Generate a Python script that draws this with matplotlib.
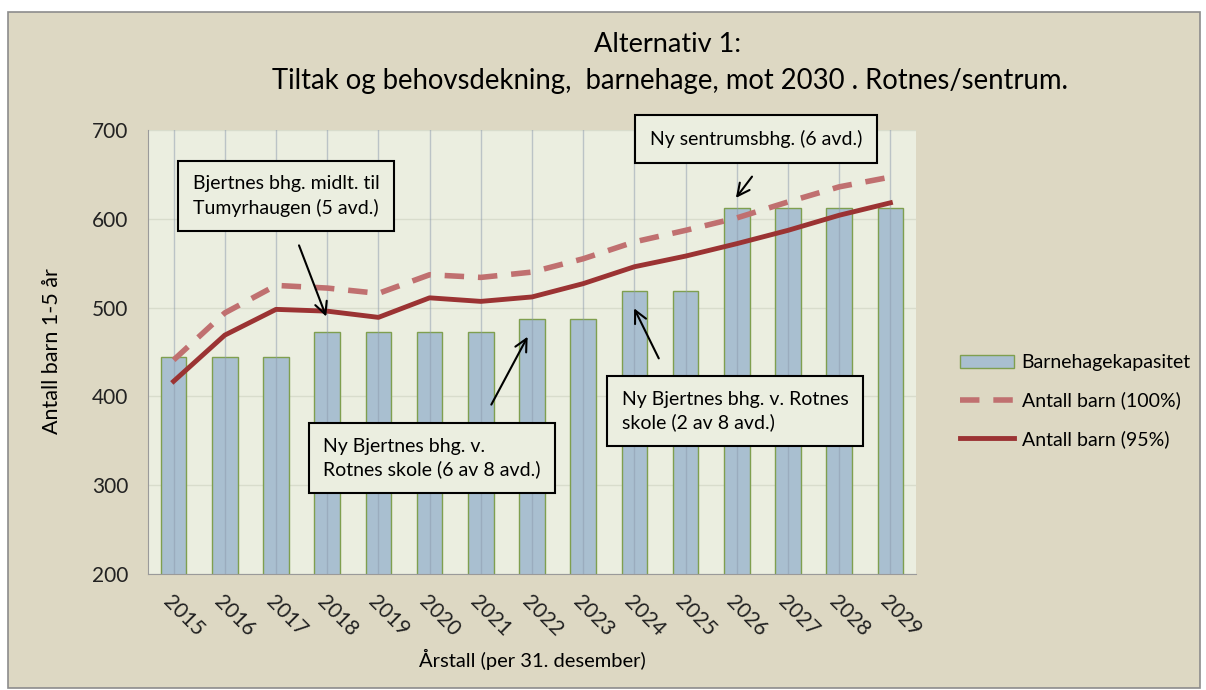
import matplotlib.pyplot as plt
import matplotlib.patches as mpatches
import numpy as np

# --- data ---
years = ['2015', '2016', '2017', '2018', '2019', '2020', '2021', '2022',
         '2023', '2024', '2025', '2026', '2027', '2028', '2029']
kapasitet = [444, 444, 444, 472, 472, 472, 472, 487, 487, 519, 519, 612, 612, 612, 612]
barn_100 = [441, 494, 525, 522, 516, 537, 534, 540, 555, 574, 587, 601, 619, 636, 647]
barn_95 = [417, 469, 498, 496, 489, 511, 507, 512, 527, 546, 558, 572, 587, 604, 618]

plt.rcParams['font.family'] = ['Lato', 'DejaVu Sans']

bg = '#ddd8c3'
W, H = 1206, 690
fig = plt.figure(figsize=(12.06, 6.9), dpi=100, facecolor='white')
fig.patches.append(mpatches.Rectangle((8 / W, 1 - 688 / H), 1192 / W, 676 / H,
                                      transform=fig.transFigure, facecolor=bg,
                                      edgecolor='#8c8c8c', lw=1.2, zorder=-5))

ax = fig.add_axes([148 / W, 1 - 574 / H, (916 - 148) / W, (574 - 130) / H], zorder=2)
ax.set_facecolor('#ebeee0')

x = np.arange(len(years))
b = ax.bar(x, kapasitet, width=0.5, color='#a9bfd0', edgecolor='#7f9f4f', lw=1,
           label='Barnehagekapasitet', zorder=2)
# vertikale rutenett over søylene (halvgjennomsiktige)
for xi in x:
    ax.axvline(xi, color='#8c9aae', alpha=0.5, lw=1, zorder=2.5)
l1, = ax.plot(x, barn_100, color='#c07070', lw=4, dashes=(3.5, 2.5),
              label='Antall barn (100%)', zorder=3)
l2, = ax.plot(x, barn_95, color='#9b3333', lw=3.5, label='Antall barn (95%)', zorder=4)

ax.set_ylim(200, 700)
ax.set_xlim(-0.5, len(years) - 0.5)
ax.set_yticks(range(200, 701, 100))
ax.set_xticks(x)
ax.set_xticklabels(years, rotation=-45, ha='left', va='top', rotation_mode='anchor')
ax.tick_params(axis='both', length=0, labelsize=15, colors='#222222')
ax.tick_params(axis='x', pad=13)
ax.tick_params(axis='y', pad=14)
ax.grid(axis='y', color='#d8dccc', lw=1, zorder=1)
ax.set_axisbelow(True)
for s in ['top', 'right']:
    ax.spines[s].set_visible(False)
for s in ['left', 'bottom']:
    ax.spines[s].set_color('#9a9a9a')

fig.text(668 / W, 1 - 45 / H, 'Alternativ 1:', ha='center', va='center', fontsize=19.5)
fig.text(670 / W, 1 - 81 / H, 'Tiltak og behovsdekning,  barnehage, mot 2030 . Rotnes/sentrum.',
         ha='center', va='center', fontsize=19.8)
fig.text(52 / W, 1 - 351 / H, 'Antall barn 1-5 år', rotation=90, ha='center', va='center', fontsize=15.5)
fig.text(532 / W, 1 - 659 / H, 'Årstall (per 31. desember)', ha='center', va='center', fontsize=14.5)

# annotations
box = dict(boxstyle='square,pad=0.75', facecolor='#ebeee0', edgecolor='black', lw=1.5)
notes = [
    ('Bjertnes bhg. midlt. til\nTumyrhaugen (5 avd.)', 286, 196),
    ('Ny sentrumsbhg. (6 avd.)', 756, 139),
    ('Ny Bjertnes bhg. v.\nRotnes skole (6 av 8 avd.)', 432, 458),
    ('Ny Bjertnes bhg. v. Rotnes\nskole (2 av 8 avd.)', 735, 411),
]
for txt, px, py in notes:
    fig.text(px / W, 1 - py / H, txt, ha='center', va='center', fontsize=14,
             multialignment='left', bbox=box, zorder=6, linespacing=1.4)

arrows = [((3.0, 487), (2.43, 573)),
          ((10.95, 621), (11.33, 650)),
          ((6.94, 470), (6.18, 388)),
          ((8.97, 502), (9.5, 440))]
for tip, start in arrows:
    ax.annotate('', xy=tip, xytext=start, annotation_clip=False,
                arrowprops=dict(arrowstyle='->', color='black', lw=1.5, mutation_scale=22),
                zorder=7)

fig.legend([b, l1, l2], ['Barnehagekapasitet', 'Antall barn (100%)', 'Antall barn (95%)'],
           loc='center left', bbox_to_anchor=(942 / W, 1 - 401 / H), frameon=False,
           fontsize=14, handlelength=2.8, labelspacing=1.05, handletextpad=0.4)

fig.savefig('out.png', dpi=100, facecolor='white')
